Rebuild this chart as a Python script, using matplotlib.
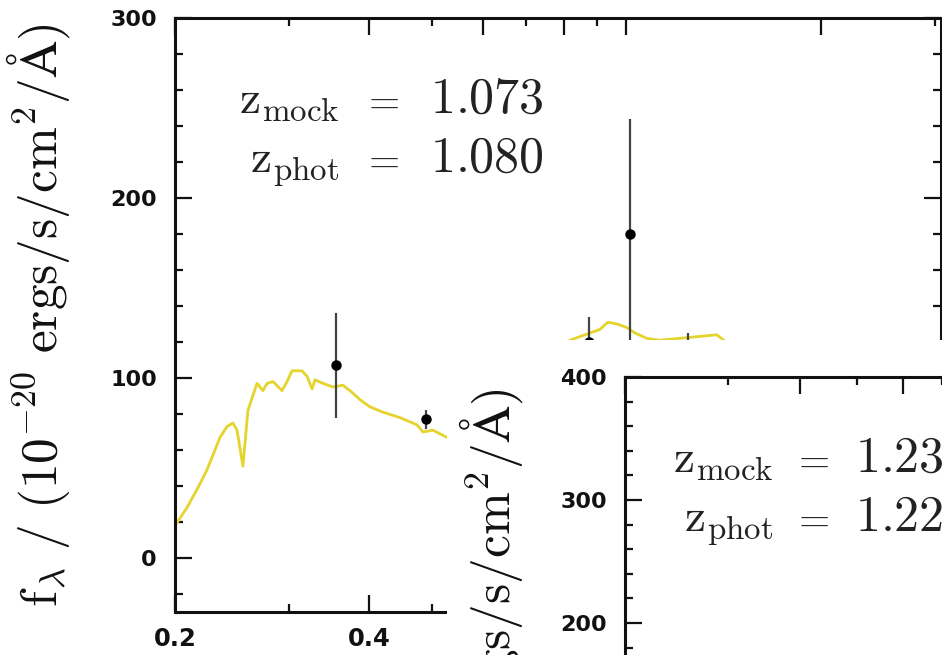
import matplotlib
matplotlib.use("Agg")
import matplotlib.pyplot as plt
from matplotlib.patches import Rectangle

plt.rcParams['mathtext.fontset'] = 'cm'
plt.rcParams['font.family'] = ['DejaVu Sans']

# ---------------- data (panel 1) ----------------
sed_wave = [0.2000, 0.2014, 0.2087, 0.2163, 0.2242, 0.2348, 0.2407, 0.2459, 0.2495,
            0.2548, 0.2594, 0.2679, 0.2737, 0.2777, 0.2837, 0.2929, 0.2982, 0.3035,
            0.3145, 0.3202, 0.3260, 0.3295, 0.3390, 0.3513, 0.3639, 0.3732, 0.3867,
            0.4007, 0.4198, 0.4459, 0.4739, 0.4841, 0.5017, 0.5274, 0.818, 0.910,
            0.936, 0.967, 1.002, 1.031, 1.076, 1.127, 1.38, 1.45]
sed_flux = [19, 19.5, 28, 38, 49, 67, 73, 75, 71,
            51, 82, 97, 93, 97, 98, 93, 98, 104,
            104, 101, 94, 99, 97, 95, 96, 93, 88,
            84, 81, 78, 74, 70, 71, 67, 121, 127,
            131, 130, 128, 125, 122, 121, 124, 118]

phot_wave = [0.355, 0.489, 0.875, 1.012, 1.245]
phot_flux = [107, 77, 120, 180, 105]
phot_err = [29, 5.5, 14, 64, 20]

z_mock_1, z_phot_1 = "1.073", "1.080"
z_mock_2, z_phot_2 = "1.239", "1.220"

x_major = [0.2, 0.4, 0.6, 0.8, 1, 2]
x_minor = [0.3, 0.5, 0.7, 0.9, 3]
x_labels = ['0.2', '0.4', '0.6', '0.8', '1', '2']
x_labels_visible_p1 = ['0.2', '0.4']

y1_major = [0, 100, 200, 300]
y1_minor = list(range(-20, 300, 20))
y2_major = [0, 100, 200, 300, 400]
y2_minor = list(range(-80, 400, 20))

ylabel = r'$\mathrm{f_{\lambda}\ /\ (10^{-20}\ ergs/s/cm^{2}/Å)}$'

W, H = 942, 655
fig = plt.figure(figsize=(W / 100, H / 100), dpi=100)
fig.patch.set_facecolor('white')


def pix_axes(left, top, right, bottom, z):
    return fig.add_axes([left / W, 1 - bottom / H, (right - left) / W, (bottom - top) / H], zorder=z)


def style(ax, xlim, ylim, ymaj, ymin, labx, laby):
    ax.set_xscale('log')
    ax.set_xticks(x_major)
    ax.set_xticklabels(x_labels)
    ax.set_xticks(x_minor, minor=True)
    ax.set_xticklabels([''] * len(x_minor), minor=True)
    ax.set_yticks(ymaj)
    ax.set_yticks(ymin, minor=True)
    ax.set_xlim(*xlim)
    ax.set_ylim(*ylim)
    ax.tick_params(which='both', direction='in', top=True, right=True, width=1.6, colors='#111111')
    ax.tick_params(which='major', length=12)
    ax.tick_params(which='minor', length=6)
    ax.tick_params(axis='y', which='major', labelsize=16, pad=13)
    ax.tick_params(axis='x', which='major', labelsize=17.5, pad=11)
    for lab in ax.get_xticklabels() + ax.get_yticklabels():
        lab.set_fontweight('bold')
    for s in ax.spines.values():
        s.set_linewidth(2.2)
        s.set_color('#111111')
    ax.set_ylabel(ylabel, fontsize=37, color='#111111')
    ax.yaxis.set_label_coords(labx, laby)


def ztext(ax, zm, zp):
    kw = dict(transform=ax.transAxes, va='baseline', color='#222222')
    ax.text(0.215, 0.840, r'$\mathrm{z_{mock}}$', ha='right', fontsize=34, **kw)
    ax.text(0.268, 0.840, r'$=$', ha='center', fontsize=29, **kw)
    ax.text(0.333, 0.840, r'$\mathrm{' + zm + '}$', ha='left', fontsize=36, **kw)
    ax.text(0.215, 0.741, r'$\mathrm{z_{phot}}$', ha='right', fontsize=34, **kw)
    ax.text(0.268, 0.741, r'$=$', ha='center', fontsize=29, **kw)
    ax.text(0.333, 0.741, r'$\mathrm{' + zp + '}$', ha='left', fontsize=36, **kw)


# ---------------- panel 1 ----------------
ax1 = pix_axes(175, 18, 941, 612, 0)
style(ax1, (0.2, 3.07), (-30, 300), y1_major, y1_minor, -0.135, 0.5)
# only the labels not covered by the overlapping page
for lab in ax1.get_xticklabels():
    lab.set_visible(lab.get_text() in x_labels_visible_p1)
ax1.plot(sed_wave, sed_flux, color='#e4d42c', lw=2.0, zorder=2)
ax1.errorbar(phot_wave, phot_flux, yerr=phot_err, fmt='o', color='black', ms=6.5,
             ecolor='#444444', elinewidth=1.6, capsize=0, zorder=3)
ztext(ax1, z_mock_1, z_phot_1)

# white page of the overlapping second figure
fig.add_artist(Rectangle((447 / W, 0), 1 - 447 / W, (H - 340) / H, transform=fig.transFigure,
                         facecolor='white', edgecolor='none', zorder=1))

# ---------------- panel 2 ----------------
ax2 = pix_axes(625, 377, 1316, 971, 2)
style(ax2, (0.2, 3.07), (-83, 400), y2_major, y2_minor, -0.144, 0.49)
ztext(ax2, z_mock_2, z_phot_2)

fig.savefig('out.png', dpi=100)
